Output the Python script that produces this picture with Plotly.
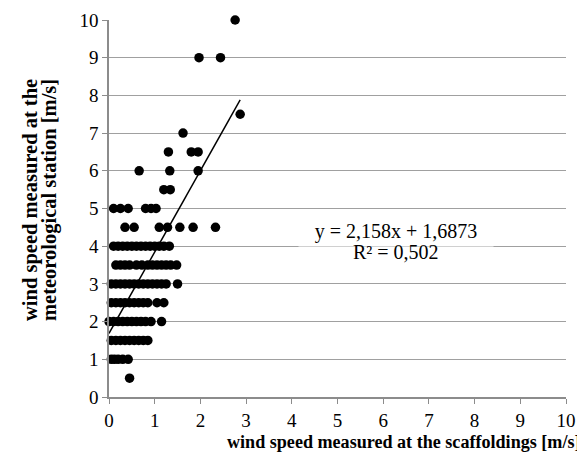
import plotly.graph_objects as go

# Wind speed at scaffoldings (x) grouped by station reading (y)
x_at_0_5 = [0.45]
x_at_1_0 = [0.05, 0.12, 0.2, 0.3, 0.42]
x_at_1_5 = [0.05, 0.15, 0.25, 0.35, 0.45, 0.55, 0.65, 0.75, 0.85]
x_at_2_0 = [0.0, 0.1, 0.2, 0.3, 0.4, 0.5, 0.6, 0.7, 0.8, 0.92, 1.15]
x_at_2_5 = [0.05, 0.15, 0.25, 0.35, 0.45, 0.55, 0.65, 0.75, 0.85, 1.05, 1.2]
x_at_3_0 = [0.05, 0.15, 0.25, 0.35, 0.45, 0.55, 0.65, 0.75, 0.85, 0.95, 1.05, 1.15, 1.25, 1.5]
x_at_3_5 = [0.15, 0.25, 0.35, 0.45, 0.6, 0.72, 0.85, 0.95, 1.05, 1.15, 1.25, 1.35, 1.48]
x_at_4_0 = [0.1, 0.2, 0.3, 0.4, 0.5, 0.6, 0.7, 0.8, 0.9, 1.0, 1.1, 1.2, 1.32]
x_at_4_5 = [0.35, 0.55, 1.1, 1.28, 1.55, 1.84, 2.33]
x_at_5_0 = [0.1, 0.25, 0.42, 0.8, 0.92, 1.03]
x_at_5_5 = [1.2, 1.34]
x_at_6_0 = [0.66, 1.33, 1.95]
x_at_6_5 = [1.3, 1.8, 1.95]
x_at_7_0 = [1.62]
x_at_7_5 = [2.87]
x_at_9_0 = [1.97, 2.44]
x_at_10_0 = [2.76]

station_levels = [0.5, 1.0, 1.5, 2.0, 2.5, 3.0, 3.5, 4.0, 4.5, 5.0, 5.5, 6.0, 6.5, 7.0, 7.5, 9.0, 10.0]
scaffold_groups = [x_at_0_5, x_at_1_0, x_at_1_5, x_at_2_0, x_at_2_5, x_at_3_0, x_at_3_5,
                   x_at_4_0, x_at_4_5, x_at_5_0, x_at_5_5, x_at_6_0, x_at_6_5, x_at_7_0,
                   x_at_7_5, x_at_9_0, x_at_10_0]

slope = 2.158
intercept = 1.6873
r_squared = "0,502"
tick_values = list(range(0, 11))

xs, ys = [], []
for lvl, grp in zip(station_levels, scaffold_groups):
    for v in grp:
        xs.append(v)
        ys.append(lvl)

trend_x = [min(xs), max(xs)]
trend_y = [slope * v + intercept for v in trend_x]

serif = "Liberation Serif"

fig = go.Figure()
fig.add_trace(go.Scatter(x=xs, y=ys, mode="markers",
                         marker=dict(color="black", size=9.5, line=dict(width=0)),
                         showlegend=False, cliponaxis=False))
fig.add_trace(go.Scatter(x=trend_x, y=trend_y, mode="lines",
                         line=dict(color="black", width=1.5), showlegend=False))

fig.update_layout(
    width=577, height=446,
    margin=dict(l=101, r=19, t=12, b=57),
    paper_bgcolor="white", plot_bgcolor="white",
    font=dict(family=serif, size=19, color="black"),
    xaxis=dict(range=[0, 10], tickvals=tick_values, showgrid=False, zeroline=False,
               automargin=False,
               showline=True, linecolor="#8c8c8c", linewidth=1.5,
               ticks="outside", ticklen=5, tickcolor="#8c8c8c",
               tickfont=dict(family=serif, size=19)),
    yaxis=dict(range=[0, 10], tickvals=tick_values, showgrid=True, gridcolor="#a0a0a0",
               gridwidth=1.2, zeroline=False, automargin=False,
               showline=True, linecolor="#8c8c8c", linewidth=1.5,
               ticks="outside", ticklen=5, tickcolor="#8c8c8c",
               tickfont=dict(family=serif, size=19)),
)

fig.add_annotation(xref="paper", yref="paper", x=1, y=0, xanchor="right", yanchor="middle",
                   xshift=17, yshift=-45,
                   text="<b>wind speed measured at the scaffoldings [m/s]</b>",
                   showarrow=False, font=dict(family=serif, size=18.1))
fig.add_annotation(xref="paper", yref="paper", x=0, y=0.5225, xanchor="center", yanchor="middle",
                   xshift=-79, textangle=-90,
                   text="<b>wind speed measured at the</b>",
                   showarrow=False, font=dict(family=serif, size=20.5))
fig.add_annotation(xref="paper", yref="paper", x=0, y=0.5225, xanchor="center", yanchor="middle",
                   xshift=-60, textangle=-90,
                   text="<b>meteorological station [m/s]</b>",
                   showarrow=False, font=dict(family=serif, size=20.5))
fig.add_annotation(x=6.28, y=4.38, xref="x", yref="y", xanchor="center", yanchor="middle",
                   text=f"y = {str(slope).replace('.', ',')}x + {str(intercept).replace('.', ',')}",
                   showarrow=False, bgcolor="white", font=dict(family=serif, size=20),
                   width=188, borderpad=3)
fig.add_annotation(x=6.28, y=3.85, xref="x", yref="y", xanchor="center", yanchor="middle",
                   text=f"R² = {r_squared}",
                   showarrow=False, font=dict(family=serif, size=20))

fig.write_html("out.html")
